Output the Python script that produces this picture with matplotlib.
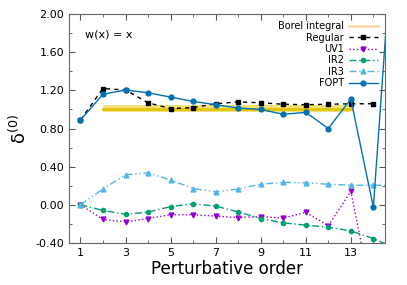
import numpy as np
import matplotlib.pyplot as plt
from matplotlib.ticker import MultipleLocator

# perturbative orders
orders = [1, 2, 3, 4, 5, 6, 7, 8, 9, 10, 11, 12, 13, 14]
orders_ext = orders + [15]

regular = [0.89, 1.22, 1.205, 1.07, 1.01, 1.02, 1.06, 1.08, 1.07, 1.055, 1.05, 1.055, 1.06, 1.06]
fopt = [0.89, 1.16, 1.205, 1.175, 1.13, 1.085, 1.05, 1.015, 1.0, 0.95, 0.97, 0.80, 1.11, -0.025, 3.3]
uv1 = [0.0, -0.155, -0.18, -0.145, -0.105, -0.105, -0.12, -0.135, -0.125, -0.14, -0.08, -0.22, 0.14, -1.03]
ir2 = [0.0, -0.06, -0.10, -0.077, -0.02, 0.01, -0.015, -0.075, -0.145, -0.19, -0.215, -0.235, -0.275, -0.355, -0.46]
ir3 = [0.0, 0.165, 0.315, 0.335, 0.26, 0.17, 0.135, 0.165, 0.215, 0.235, 0.23, 0.215, 0.205, 0.205, 0.205]

borel_x = [2, 13]
borel_val = 1.01
borel_err = 0.033

fig, ax = plt.subplots(figsize=(4.07, 2.85), dpi=100)
fig.subplots_adjust(left=0.17, right=0.945, top=0.95, bottom=0.148)

# Borel band: pale outer band with a darker centre line
ax.fill_between(borel_x, borel_val - borel_err, borel_val + borel_err, color='#f3e27a', lw=0)
ax.plot(borel_x, [borel_val, borel_val], color='#e0c400', lw=2)
ax.plot([], [], color='#f5d9a0', lw=1.8, label='Borel integral')

ax.plot(orders, regular, color='black', ls=(0, (3, 3)), lw=1, marker='s', ms=3.5, label='Regular')
ax.plot(orders, uv1, color='#9400d3', ls=':', lw=1, marker='v', ms=3.5, label='UV1')
ax.plot(orders_ext, ir2, color='#009e73', ls=(0, (5, 2, 1, 2)), lw=1, marker='o', ms=3, label='IR2')
ax.plot(orders_ext, ir3, color='#56b4e9', ls=(0, (5, 2, 1, 2, 1, 2)), lw=1, marker='^', ms=3.5, label='IR3')
ax.plot(orders_ext, fopt, color='#0072b2', ls='-', lw=1, marker='o', ms=3.5, label='FOPT')

ax.set_xlim(0.5, 14.5)
ax.set_ylim(-0.4, 2.0)
ax.set_xticks([1, 3, 5, 7, 9, 11, 13])
ax.xaxis.set_minor_locator(MultipleLocator(1))
ax.yaxis.set_major_locator(MultipleLocator(0.4))
ax.yaxis.set_minor_locator(MultipleLocator(0.2))
ax.yaxis.set_major_formatter(plt.FormatStrFormatter('%.2f'))
ax.tick_params(which='both', direction='in', top=True, right=True, labelsize=8, colors='#555555', labelcolor='black')
ax.tick_params(which='major', length=4)
ax.tick_params(which='minor', length=2)
for s in ax.spines.values():
    s.set_color('#666666')

ax.set_xlabel('Perturbative order', fontsize=12, labelpad=2)
ax.set_ylabel('δ$^{(0)}$', fontsize=13, labelpad=4)

ax.text(0.05, 0.9, 'w(x) = x', transform=ax.transAxes, fontsize=8)
ax.legend(loc='upper right', frameon=False, markerfirst=False, fontsize=7, handlelength=3,
          labelspacing=0.15, borderpad=0.2, handletextpad=0.5)

plt.savefig('out.png')
